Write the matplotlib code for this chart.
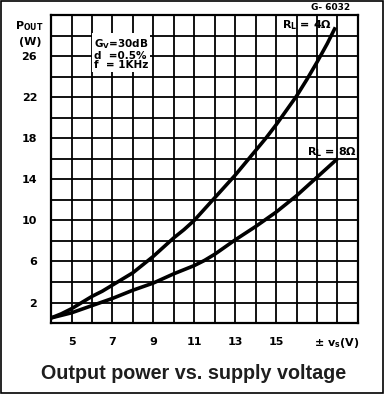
import numpy as np
import matplotlib.pyplot as plt

# supply voltage (±V) and output power (W)
vs_4 = [4, 4.5, 5, 5.5, 6, 6.5, 7, 7.5, 8, 8.5, 9, 9.5, 10, 10.5, 11, 11.5, 12, 12.5,
        13, 13.5, 14, 14.5, 15, 15.5, 16, 16.5, 17, 17.5, 17.9]
p_4ohm = [0.5, 0.9, 1.4, 2.0, 2.6, 3.1, 3.7, 4.3, 4.9, 5.7, 6.5, 7.4, 8.3, 9.1, 10.0,
          11.1, 12.2, 13.3, 14.4, 15.6, 16.8, 18.0, 19.3, 20.7, 22.1, 23.7, 25.4, 27.2, 28.8]
vs_8 = [4, 4.5, 5, 5.5, 6, 6.5, 7, 7.5, 8, 8.5, 9, 9.5, 10, 10.5, 11, 11.5, 12, 12.5,
        13, 13.5, 14, 14.5, 15, 15.5, 16, 16.5, 17, 17.5, 18]
p_8ohm = [0.5, 0.75, 1.0, 1.35, 1.7, 2.05, 2.4, 2.8, 3.2, 3.55, 3.9, 4.35, 4.8, 5.2, 5.6,
          6.1, 6.7, 7.4, 8.1, 8.75, 9.4, 10.1, 10.8, 11.6, 12.4, 13.3, 14.2, 15.1, 16.0]

xticks = [5, 7, 9, 11, 13, 15]
yticks = [2, 6, 10, 14, 18, 22, 26]

fig = plt.figure(figsize=(3.84, 3.94), dpi=100)
ax = fig.add_axes([0.133, 0.180, 0.799, 0.782])

ax.set_xlim(4, 19)
ax.set_ylim(0, 30)
ax.set_xticks(xticks)
ax.set_yticks(yticks)
ax.set_xticks(np.arange(4, 20, 1), minor=True)
ax.set_yticks(np.arange(0, 31, 2), minor=True)
ax.grid(which='both', color='black', linewidth=1.3)
ax.set_xticklabels([str(v) for v in xticks], fontsize=8, fontweight='bold')
ax.set_yticklabels([str(v) for v in yticks], fontsize=8, fontweight='bold')
ax.tick_params(which='both', length=0, pad=10)
for s in ax.spines.values():
    s.set_linewidth(1.6)

ax.plot(vs_4, p_4ohm, color='black', linewidth=2.6, solid_capstyle='butt')
ax.plot(vs_8, p_8ohm, color='black', linewidth=2.6, solid_capstyle='butt')

ax.text(15.3, 29.0, r'$\mathbf{R_L}$ = 4Ω', fontsize=8, fontweight='bold', va='center')
ax.text(16.5, 16.6, r'$\mathbf{R_L}$ = 8Ω', fontsize=8, fontweight='bold', va='center')
ax.text(6.1, 24.8, 'G$_\\mathbf{V}$=30dB\nd  =0.5%\nf  = 1KHz', fontsize=7.5,
        fontweight='bold', linespacing=0.95,
        bbox=dict(facecolor='white', edgecolor='none', pad=1.5))

fig.text(0.86, 0.982, 'G- 6032', fontsize=6.5, fontweight='bold', ha='center', va='center')
fig.text(0.075, 0.935, 'P$_\\mathbf{OUT}$', fontsize=8, fontweight='bold', ha='center', va='center')
fig.text(0.078, 0.893, '(W)', fontsize=8, fontweight='bold', ha='center', va='center')
fig.text(0.878, 0.129, r'± v$_\mathbf{s}$(V)', fontsize=8, fontweight='bold', ha='center', va='center')
fig.text(0.505, 0.052, 'Output power vs. supply voltage', fontsize=14.2, fontweight='bold',
         family='Liberation Sans', color='#1e1e1e', ha='center', va='center')

# thin frame around the whole picture
fig.patches.append(plt.Rectangle((0.002, 0.002), 0.996, 0.996, transform=fig.transFigure,
                                 fill=False, edgecolor='black', linewidth=1.2))

fig.savefig('out.png', dpi=100)
